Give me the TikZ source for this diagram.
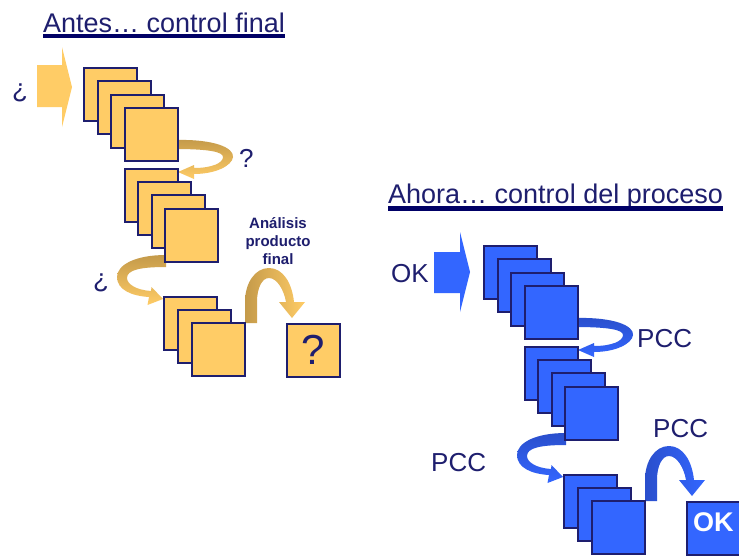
\documentclass[tikz,border=0pt]{standalone}
\usepackage{fontspec}
\setmainfont{Liberation Sans}

\definecolor{boxgold}{HTML}{FFCC66}
\definecolor{darkgold}{HTML}{C49A4A}
\definecolor{boxblue}{HTML}{3366FF}
\definecolor{darkblue}{HTML}{2A4FCC}
\definecolor{inknavy}{HTML}{1E1E6E}
\definecolor{rulenavy}{HTML}{000066}

% outlines of the bent arrows, drawn once for each side
\newcommand{\turnout}{(175,140) .. controls (215,139) and (234,148) .. (233,157)
  .. controls (232,166) and (215,174) .. (194,174) -- (194,179) -- (178,172) -- (194,165) -- (194,168)
  .. controls (212,168) and (223,163) .. (223,157) .. controls (223,152) and (210,149) .. (175,149) -- cycle}
\newcommand{\turnback}{(166,255) .. controls (135,255) and (117,265) .. (117,277)
  .. controls (117,290) and (132,296) .. (149,297) -- (147.5,305) -- (163,299) -- (151.5,287) -- (151,291)
  .. controls (136,290) and (127,284) .. (127,278) .. controls (127,270) and (140,267) .. (166,267) -- cycle}
\newcommand{\hopover}{(245,323) -- (245,302) .. controls (245,283) and (255,268) .. (269,268)
  .. controls (283,268) and (292,283) .. (294,302) -- (305,302) -- (292,318) -- (279,302) -- (286,302)
  .. controls (284,290) and (277,278) .. (269,278) .. controls (262,278) and (257,288) .. (257,302) -- (257,323) -- cycle}

\tikzset{
  stage/.style={draw=inknavy, line width=1.6pt, minimum size=53pt, inner sep=0pt, anchor=north west},
  word/.style={text=inknavy, font=\fontsize{26}{30}\selectfont, inner sep=0pt, anchor=base west},
  heading/.style={word, font=\fontsize{27}{30}\selectfont},
  note/.style={text=inknavy, font=\bfseries\fontsize{15}{18}\selectfont, align=center, inner sep=0pt},
  underline/.style={draw=rulenavy, line width=4.5pt}
}

\begin{document}
\begin{tikzpicture}[x=1pt, y=-1pt]
    \useasboundingbox (0,0) rectangle (739,555);
    \clip (0,0) rectangle (739,555);
    \fill[white] (0,0) rectangle (739,555);

    % titles
    \node[heading] (antes) at (43,32) {Antes… control final};
    \draw[underline] ([yshift=-4pt]antes.base west) -- ([yshift=-4pt]antes.base east);
    \node[heading] (ahora) at (388,203) {Ahora… control del proceso};
    \draw[underline] ([yshift=-5.5pt]ahora.base west) -- ([yshift=-5.5pt]ahora.base east);

    % old way: arrows
    \fill[boxgold] (37,65) -- (62,65) -- (62,47) -- (72,87) -- (62,127) -- (62,107) -- (37,107) -- cycle;
    \shade[top color=darkgold, bottom color=boxgold] \turnout;
    \shade[top color=darkgold, bottom color=boxgold] \turnback;
    \shade[left color=darkgold, right color=boxgold] \hopover;

    % old way: stages
    \node[stage, fill=boxgold] (lA1) at (83,67) {};
    \node[stage, fill=boxgold] (lA2) at (97,80) {};
    \node[stage, fill=boxgold] (lA3) at (110,94) {};
    \node[stage, fill=boxgold] (lA4) at (124,107) {};
    \node[stage, fill=boxgold] (lB1) at (124,168) {};
    \node[stage, fill=boxgold] (lB2) at (137,181) {};
    \node[stage, fill=boxgold] (lB3) at (151,194) {};
    \node[stage, fill=boxgold] (lB4) at (164,208) {};
    \node[stage, fill=boxgold] (lC1) at (163,296) {};
    \node[stage, fill=boxgold] (lC2) at (177,309) {};
    \node[stage, fill=boxgold] (lC3) at (191,322) {};
    \node[stage, fill=boxgold, text=inknavy, font=\fontsize{42}{42}\selectfont] (quiz) at (286,323) {?};

    % old way: labels
    \node[word] (qin) at (12,97) {¿};
    \node[word] (qturn) at (239,167) {?};
    \node[word] (qback) at (93,287) {¿};
    \node[note] (analysis) at (278,241) {Análisis\\producto\\final};

    % new way: same layout, moved down and right
    \begin{scope}[shift={(400,178)}]
        \fill[boxblue] (34,74) -- (60,74) -- (60,54) -- (70,94) -- (60,134) -- (60,115) -- (34,115) -- cycle;
        \shade[top color=darkblue, bottom color=boxblue] \turnout;
        \shade[top color=darkblue, bottom color=boxblue] \turnback;
        \shade[left color=darkblue, right color=boxblue] \hopover;

        \node[stage, fill=boxblue] (rA1) at (83,67) {};
        \node[stage, fill=boxblue] (rA2) at (97,80) {};
        \node[stage, fill=boxblue] (rA3) at (110,94) {};
        \node[stage, fill=boxblue] (rA4) at (124,107) {};
        \node[stage, fill=boxblue] (rB1) at (124,168) {};
        \node[stage, fill=boxblue] (rB2) at (137,181) {};
        \node[stage, fill=boxblue] (rB3) at (151,194) {};
        \node[stage, fill=boxblue] (rB4) at (164,208) {};
        \node[stage, fill=boxblue] (rC1) at (163,296) {};
        \node[stage, fill=boxblue] (rC2) at (177,309) {};
        \node[stage, fill=boxblue] (rC3) at (191,322) {};
        \node[stage, fill=boxblue] (okbox) at (286,323) {};
        \node[text=white, font=\bfseries\fontsize{27}{27}\selectfont, inner sep=0pt] (okword) at ([yshift=6pt]okbox.center) {OK};
    \end{scope}

    % new way: labels
    \node[word] (okin) at (391,282) {OK};
    \node[word] (pccturn) at (637,347) {PCC};
    \node[word] (pccback) at (431,471) {PCC};
    \node[word] (pcchop) at (653,437) {PCC};
\end{tikzpicture}
\end{document}
